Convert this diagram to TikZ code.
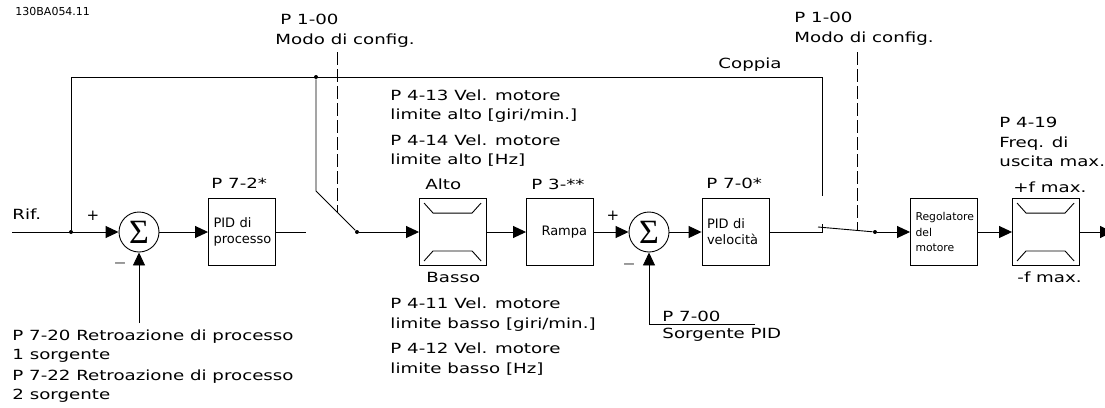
\documentclass[tikz,border=0pt]{standalone}
\usepackage{fontspec}
\setmainfont{DejaVu Sans}
\newfontfamily\widefont[FakeStretch=1.3]{DejaVu Sans}
\newfontfamily\sumfont{Liberation Serif}
\usetikzlibrary{positioning, arrows.meta}
\newcommand{\limitmarks}[1]{%
  \draw ([shift={(5,5)}]#1.north west) -- ++(9,10) -- ++(39,0) -- ++(9,-10);
  \draw ([shift={(5,-5)}]#1.south west) -- ++(9,-10) -- ++(39,0) -- ++(9,10);
}

\begin{document}
\begin{tikzpicture}[
  x=1pt, y=-1pt, line width=0.9pt,
  blockbox/.style={
    draw, minimum width=67pt, minimum height=67pt,
    inner xsep=5pt, text width=57pt, align=left,
    font=\fontsize{13}{16}\selectfont
  },
  sumnode/.style={
    draw, circle, minimum size=40pt, inner sep=0pt,
    font=\sumfont\fontsize{34}{34}\selectfont
  },
  junction/.style={circle, fill, inner sep=0pt, minimum size=4pt},
  note/.style={anchor=west, inner sep=0pt, align=left, font=\widefont\fontsize{14}{19.5}\selectfont},
  sign/.style={inner sep=0pt, font=\fontsize{15}{15}\selectfont},
  arrow/.style={-{Triangle[length=13pt, width=12pt]}},
  modeline/.style={dashed, dash pattern=on 13pt off 4pt}
]
  \useasboundingbox (0,0) rectangle (1105,407);

  % blocks
  \node[sumnode] (sumA) at (139,232) {Σ};
  \node[blockbox] (pidProc) at (242,232) {PID di\\processo};
  \node[blockbox] (limA) at (453,232) {};
  \node[blockbox] (ramp) at (560,232) {\hspace*{10pt}Rampa};
  \node[sumnode] (sumB) at (649,232) {Σ};
  \node[blockbox] (pidVel) at (735.5,232) {PID di\\velocità};
  \node[blockbox, font=\fontsize{10.8}{15.5}\selectfont] (regMot) at (944,232) {Regolatore\\del\\motore};
  \node[blockbox] (limB) at (1046,232) {};
  \limitmarks{limA}
  \limitmarks{limB}

  % junctions and free ends
  \coordinate (rifIn) at (12,232);
  \node[junction] (rifDot) at (71,232) {};
  \node[junction] (topDot) at (316,77) {};
  \coordinate (topL) at (71,77);
  \coordinate (topR) at (822,77);
  \coordinate (topEnd) at (822,196);
  \coordinate (procEnd) at (306,232);
  \coordinate (leverA) at (316,191);
  \node[junction] (swA) at (357,232) {};
  \coordinate (velCorner) at (822,232);
  \coordinate (velTick) at (822,224);
  \coordinate (leverB) at (818,227);
  \node[junction] (swB) at (875,232) {};
  \coordinate (outEnd) at (1113,232);
  \coordinate (fbA) at (139,323);
  \coordinate (fbB) at (649,324);
  \coordinate (fbBEnd) at (755,324);
  \coordinate (modeAtop) at (337,52);
  \coordinate (modeAend) at (337,212);
  \coordinate (modeBtop) at (857,52);
  \coordinate (modeBend) at (857,230);

  % connectors
  \draw[arrow] (rifIn) -- (sumA.west);
  \draw (rifDot) -- (topL) -- (topR) -- (topEnd);
  \draw[arrow] (sumA) -- (pidProc);
  \draw (pidProc.east) -- (procEnd);
  \draw (topDot) -- (leverA) -- (swA);
  \draw[arrow] (swA) -- (limA);
  \draw[arrow] (limA) -- (ramp);
  \draw[arrow] (ramp) -- (sumB);
  \draw[arrow] (sumB) -- (pidVel);
  \draw (pidVel.east) -- (velCorner) -- (velTick);
  \draw (leverB) -- (swB);
  \draw[arrow] (swB) -- (regMot);
  \draw[arrow] (regMot) -- (limB);
  \draw[arrow] (limB) -- (outEnd);
  \draw[arrow] (fbA) -- (sumA.south);
  \draw[arrow] (fbBEnd) -- (fbB) -- (sumB.south);
  \draw[modeline] (modeAtop) -- (modeAend);
  \draw[modeline] (modeBtop) -- (modeBend);

  % texts
  \node[note, font=\fontsize{11}{13}\selectfont] (docId) at (15,11) {130BA054.11};
  \node[note] (rifText) at (12,214) {Rif.};
  \node[sign] (plusA) at (93,216) {+};
  \node[sign, font=\fontsize{11}{11}\selectfont] (minusA) at (120,265) {---};
  \node[sign] (plusB) at (613,216) {+};
  \node[sign, font=\fontsize{11}{11}\selectfont] (minusB) at (629,266) {---};
  \node[note] (modeA) at (275,31) {\hspace{5pt}P 1-00\\Modo di config.};
  \node[note] (modeB) at (794,29) {P 1-00\\Modo di config.};
  \node[note] (torque) at (718,65) {Coppia};
  \node[note] (hiRpm) at (390,106) {P 4-13 Vel. motore\\limite alto [giri/min.]};
  \node[note] (hiHz) at (390,150.5) {P 4-14 Vel. motore\\limite alto [Hz]};
  \node[note] (altoText) at (425,184) {Alto};
  \node[note] (rampPar) at (531,184) {P 3-**};
  \node[note] (pidProcPar) at (211,183) {P 7-2*};
  \node[note] (pidVelPar) at (706,183) {P 7-0*};
  \node[note] (bassoText) at (426,277) {Basso};
  \node[note] (loRpm) at (390,314.5) {P 4-11 Vel. motore\\limite basso [giri/min.]};
  \node[note] (loHz) at (390,359) {P 4-12 Vel. motore\\limite basso [Hz]};
  \node[note] (srcPar) at (662,316) {P 7-00};
  \node[note] (srcText) at (662,335) {Sorgente PID};
  \node[note] (fmaxPar) at (999,142) {P 4-19\\Freq. di\\uscita max.};
  \node[note] (fplus) at (1013,187) {+f max.};
  \node[note] (fminus) at (1017,277) {-f max.};
  \node[note] (fbOne) at (12,346) {P 7-20 Retroazione di processo\\1 sorgente};
  \node[note] (fbTwo) at (12,386) {P 7-22 Retroazione di processo\\2 sorgente};
\end{tikzpicture}
\end{document}
